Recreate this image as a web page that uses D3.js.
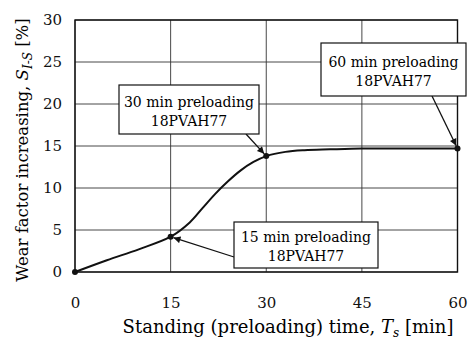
<!DOCTYPE html>
<html>
<head>
<meta charset="utf-8">
<script src="https://cdn.jsdelivr.net/npm/d3@7"></script>
<style>
body { margin: 0; background: #fff; }
</style>
</head>
<body>
<svg></svg>
<script>
// measured points
var times = [0, 15, 30, 60];
var wear = [0, 4.2, 13.8, 14.7];

// smooth curve
var curveT = [0, 5, 10, 15, 18, 20, 22, 24, 26, 28, 30, 33, 36, 40, 45, 50, 60];
var curveV = [0, 1.4, 2.7, 4.2, 5.9, 7.6, 9.3, 10.8, 12.1, 13.1, 13.8, 14.3, 14.5, 14.6, 14.7, 14.7, 14.7];

var xTicks = [0, 15, 30, 45, 60];
var yTicks = [0, 5, 10, 15, 20, 25, 30];

var notes = ["30 min preloading", "60 min preloading", "15 min preloading"];
var noteSub = "18PVAH77";

var serif = '"DejaVu Serif"';

var w = 468, h = 341;
var svg = d3.select('svg')
    .attr('width', w)
    .attr('height', h)
    .style('font-family', serif);

var x = d3.scaleLinear().domain([0, 60]).range([75, 457.5]);
var y = d3.scaleLinear().domain([0, 30]).range([272, 20]);

// grid
svg.selectAll('line.gx')
    .data(xTicks)
    .enter()
    .append('line')
    .attr('x1', function(d){ return x(d) })
    .attr('x2', function(d){ return x(d) })
    .attr('y1', y(0))
    .attr('y2', y(30))
    .attr('stroke', '#333')
    .attr('stroke-width', 0.9);

svg.selectAll('line.gy')
    .data(yTicks)
    .enter()
    .append('line')
    .attr('x1', x(0))
    .attr('x2', x(60))
    .attr('y1', function(d){ return y(d) })
    .attr('y2', function(d){ return y(d) })
    .attr('stroke', '#333')
    .attr('stroke-width', 0.9);

svg.append('rect')
    .attr('x', x(0))
    .attr('y', y(30))
    .attr('width', x(60) - x(0))
    .attr('height', y(0) - y(30))
    .attr('fill', 'none')
    .attr('stroke', '#111')
    .attr('stroke-width', 1.4);

// axes (labels only)
var xAxis = svg.append('g')
    .attr('transform', 'translate(0,' + (y(0) + 21) + ')')
    .call(d3.axisBottom(x).tickValues(xTicks).tickSize(0).tickPadding(0));
var yAxis = svg.append('g')
    .attr('transform', 'translate(' + (x(0) - 13) + ',0)')
    .call(d3.axisLeft(y).tickValues(yTicks).tickSize(0).tickPadding(0));
[xAxis, yAxis].forEach(function(g){
    g.attr('font-family', null);
    g.select('.domain').remove();
    g.selectAll('text').attr('font-size', 15).attr('fill', '#111');
});
xAxis.selectAll('text').attr('dy', '1em');

// axis titles
var xt = svg.append('text')
    .attr('x', 288)
    .attr('y', 333)
    .attr('text-anchor', 'middle')
    .attr('font-size', 18);
xt.append('tspan').text('Standing (preloading) time, ');
xt.append('tspan').attr('font-style', 'italic').text('T');
xt.append('tspan').attr('font-style', 'italic').attr('font-size', 12).attr('dy', 4).text('s');
xt.append('tspan').attr('dy', -4).text(' [min]');

var yt = svg.append('text')
    .attr('transform', 'translate(28,150) rotate(-90)')
    .attr('text-anchor', 'middle')
    .attr('font-size', 16.5);
yt.append('tspan').text('Wear factor increasing, ');
yt.append('tspan').attr('font-style', 'italic').text('S');
yt.append('tspan').attr('font-style', 'italic').attr('font-size', 12).attr('dy', 4).text('I-S');
yt.append('tspan').attr('dy', -4).text(' [%]');

// curve
var line = d3.line()
    .x(function(d){ return x(d[0]) })
    .y(function(d){ return y(d[1]) })
    .curve(d3.curveCatmullRom.alpha(0.5));
svg.append('path')
    .datum(d3.zip(curveT, curveV))
    .attr('d', line)
    .attr('fill', 'none')
    .attr('stroke', '#111')
    .attr('stroke-width', 2);

svg.selectAll('circle.pt')
    .data(d3.zip(times, wear))
    .enter()
    .append('circle')
    .attr('cx', function(d){ return x(d[0]) })
    .attr('cy', function(d){ return y(d[1]) })
    .attr('r', 3)
    .attr('fill', '#111');

// arrowhead
svg.append('defs').append('marker')
    .attr('id', 'arr')
    .attr('viewBox', '0 0 10 10')
    .attr('refX', 10).attr('refY', 5)
    .attr('markerWidth', 9).attr('markerHeight', 7)
    .attr('markerUnits', 'userSpaceOnUse')
    .attr('orient', 'auto')
    .append('path')
    .attr('d', 'M0,0 L10,5 L0,10 Z')
    .attr('fill', '#111');

// callouts: box [x, y, w, h], arrow start, target point index
var boxes = [
    {t: notes[0], b: [119, 85, 140, 49], from: [246, 134], pt: 2},
    {t: notes[1], b: [321, 43, 145, 53], from: [432, 96], pt: 3},
    {t: notes[2], b: [234, 222, 144, 46], from: [234, 257], pt: 1}
];
boxes.forEach(function(d){
    var tx = x(times[d.pt]), ty = y(wear[d.pt]);
    var dx = tx - d.from[0], dy = ty - d.from[1], len = Math.sqrt(dx*dx + dy*dy);
    svg.append('line')
        .attr('x1', d.from[0]).attr('y1', d.from[1])
        .attr('x2', tx - dx / len * 3).attr('y2', ty - dy / len * 3)
        .attr('stroke', '#111')
        .attr('stroke-width', 1.3)
        .attr('marker-end', 'url(#arr)');
    svg.append('rect')
        .attr('x', d.b[0]).attr('y', d.b[1])
        .attr('width', d.b[2]).attr('height', d.b[3])
        .attr('fill', '#fff')
        .attr('stroke', '#111')
        .attr('stroke-width', 1.2);
    var cx = d.b[0] + d.b[2] / 2, cy = d.b[1] + d.b[3] / 2;
    svg.append('text').attr('x', cx).attr('y', cy - 3)
        .attr('text-anchor', 'middle').attr('font-size', 14).text(d.t);
    svg.append('text').attr('x', cx).attr('y', cy + 16)
        .attr('text-anchor', 'middle').attr('font-size', 14).text(noteSub);
});
</script>
</body>
</html>
